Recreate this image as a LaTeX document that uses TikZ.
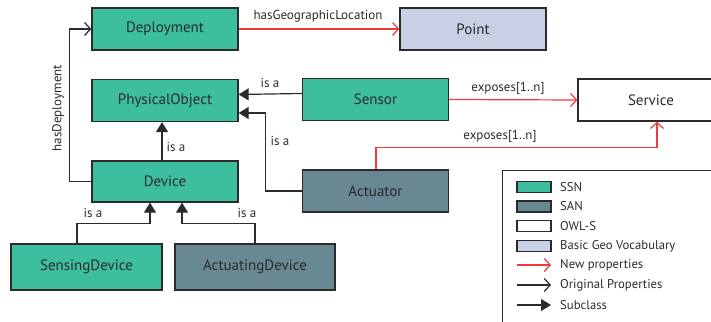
\documentclass[tikz,border=0pt]{standalone}
\usepackage{fontspec}
\setmainfont{PT Sans}
\usetikzlibrary{arrows.meta,positioning,calc}
\definecolor{SSNgreen}{HTML}{3DBE9E}
\definecolor{SANgray}{HTML}{688994}
\definecolor{GeoBlue}{HTML}{C8D0E6}
\definecolor{NewRed}{HTML}{F03A3E}
\definecolor{Ink}{HTML}{2B2B2B}

\begin{document}
\begin{tikzpicture}[x=1pt,y=-1pt,
    cls/.style={draw=Ink,line width=1.3pt,minimum width=146pt,minimum height=42pt,
      text=Ink,font=\fontsize{15}{17}\selectfont,inner sep=0pt},
    ssn/.style={cls,fill=SSNgreen},
    san/.style={cls,fill=SANgray},
    owl/.style={cls,fill=white},
    geo/.style={cls,fill=GeoBlue},
    newprop/.style={draw=NewRed,line width=1.2pt,-{Straight Barb[length=6pt,width=13pt,line width=1.2pt]}},
    origprop/.style={draw=Ink,line width=1.2pt,-{Straight Barb[length=6pt,width=13pt,line width=1.2pt]}},
    subcls/.style={draw=Ink,line width=1.2pt,-{Triangle[length=10pt,width=12pt]}},
    lbl/.style={text=Ink,font=\fontsize{13}{15}\selectfont,inner sep=1pt},
    legtxt/.style={text=Ink,font=\fontsize{12.7}{14}\selectfont,anchor=west,inner sep=0pt},
    swatch/.style={draw=Ink,line width=1.2pt,minimum width=34pt,minimum height=11pt,inner sep=0pt}]
  \clip (0,0) rectangle (711,321);

  % classes
  \node[ssn] (deploy) at (165,29) {Deployment};
  \node[geo] (point) at (473,29) {Point};
  \node[ssn] (physobj) at (165,100.5) {PhysicalObject};
  \node[ssn] (sensor) at (375.5,99.5) {Sensor};
  \node[owl] (service) at (651,100) {Service};
  \node[ssn,minimum height=41pt] (device) at (165,181.5) {Device};
  \node[san] (actuator) at (375.5,191) {Actuator};
  \node[ssn,minimum width=151pt,minimum height=46pt] (sensdev) at (86.5,267) {SensingDevice};
  \node[san,minimum width=160pt,minimum height=46pt] (actdev) at (255,267) {ActuatingDevice};

  % new properties
  \draw[newprop] (deploy.east) -- (point.west);
  \node[lbl] (geoloc) at (318,16) {hasGeographicLocation};
  \draw[newprop] (sensor.east) -- (service.west);
  \node[lbl] (expsens) at (508,88) {exposes[1..n]};
  \draw[newprop] ([xshift=0.5pt]actuator.north) -- ++(0,-22) -| ([xshift=6pt]service.south);
  \node[lbl] (expact) at (500,136) {exposes[1..n]};

  % original properties
  \draw[origprop] (device.west) -- ++(-22,0) |- (deploy.west);
  \node[lbl,rotate=90] (hasdep) at (58,108) {hasDeployment};

  % subclasses
  \draw[subcls] ([yshift=6pt]sensor.west) -- ([yshift=6pt]physobj.east);
  \node[lbl] (isa1) at (270,83) {is a};
  \draw[subcls] (actuator.west) -- ++(-36,0) |- ([yshift=-12.5pt]physobj.east);
  \node[lbl] (isa2) at (280,141) {is a};
  \draw[subcls] ([xshift=-3pt]device.north) -- ([xshift=-3pt]physobj.south);
  \node[lbl] (isa3) at (176,147) {is a};
  \draw[subcls] ([xshift=-9.5pt]sensdev.north) -- ++(0,-20) -| ([xshift=-15pt]device.south);
  \node[lbl] (isa4) at (93,213) {is a};
  \draw[subcls] (actdev.north) -- ++(0,-20) -| ([xshift=17pt]device.south);
  \node[lbl] (isa5) at (247,213) {is a};

  % legend
  \node[draw=Ink,line width=1.3pt,minimum width=220pt,minimum height=152pt,anchor=north west] (legend) at (502,170) {};
  \node[swatch,fill=SSNgreen] (swssn) at (534,187) {};
  \node[legtxt] (tssn) at (560,187) {SSN};
  \node[swatch,fill=SANgray] (swsan) at (534,206.5) {};
  \node[legtxt] (tsan) at (560,206.5) {SAN};
  \node[swatch,fill=white] (swowl) at (534,226) {};
  \node[legtxt] (towl) at (560,226) {OWL-S};
  \node[swatch,fill=GeoBlue] (swgeo) at (534,246) {};
  \node[legtxt] (tgeo) at (560,246) {Basic Geo Vocabulary};
  \coordinate (lnew) at (517,265);
  \draw[newprop] (lnew) -- ++(34,0);
  \node[legtxt] (tnew) at (560,265) {New properties};
  \coordinate (lorig) at (517,285);
  \draw[origprop] (lorig) -- ++(34,0);
  \node[legtxt] (torig) at (560,285) {Original Properties};
  \coordinate (lsub) at (517,305);
  \draw[subcls] (lsub) -- ++(34,0);
  \node[legtxt] (tsub) at (560,305) {Subclass};
\end{tikzpicture}
\end{document}
